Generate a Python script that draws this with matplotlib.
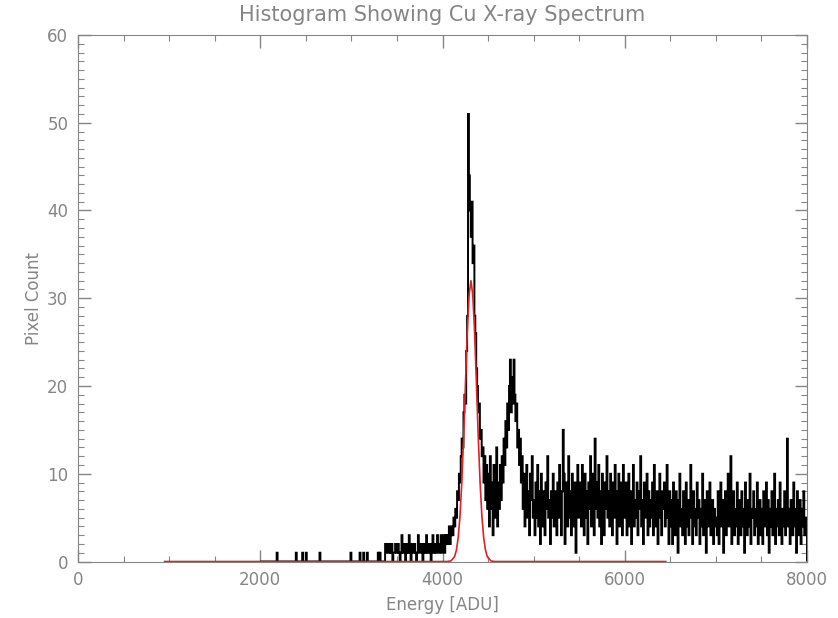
import numpy as np
import matplotlib
matplotlib.use("Agg")
import matplotlib.pyplot as plt
from matplotlib.ticker import MultipleLocator

# ancho de bin del histograma (ADU)
ancho_bin = 10
inicio = 2000
fin = 8000

# cuentas aisladas antes de la zona densa (1 cuenta cada una)
eventos_sueltos = [2180, 2390, 2460, 2500, 2650, 2990, 3090, 3130, 3170, 3290, 3310]

# cuentas por bin, zona densa desde 3350 ADU
cuentas_3350 = [0, 0, 2, 1, 2, 2, 1, 2, 1, 2, 0, 1, 1, 2, 1]
cuentas_3500 = [1, 2, 1, 0, 1, 3, 1, 1, 2, 0,
                1, 2, 1, 3, 1, 0, 2, 1, 1, 2,
                1, 0, 1, 3, 2, 1, 1, 2, 0, 1,
                2, 1, 3, 1, 1, 2, 1, 0, 2, 3,
                1, 2, 1, 1, 3, 2, 1, 2, 3, 1]
cuentas_4000 = [2, 3, 1, 3, 2, 3, 2, 4, 2, 3,
                4, 3, 5, 4, 6, 5, 8, 7, 10, 9,
                12, 14, 13, 17, 19, 18, 24, 28, 51, 44,
                40, 37, 41, 34, 36, 28, 26, 22, 20, 17,
                18, 14, 15, 12, 13, 9, 12, 7, 11, 6]
cuentas_4500 = [10, 4, 12, 6, 9, 3, 11, 5, 8, 13,
                4, 9, 6, 11, 7, 12, 9, 14, 11, 16,
                13, 18, 15, 20, 23, 17, 21, 18, 23, 19,
                16, 18, 13, 15, 11, 14, 9, 12, 6, 10,
                4, 9, 11, 5, 8, 3, 10, 7, 12, 5]
cuentas_5000 = [7, 3, 9, 5, 11, 4, 8, 2, 10, 6,
                4, 8, 3, 9, 6, 12, 5, 7, 2, 8,
                5, 10, 4, 8, 6, 3, 9, 5, 11, 7,
                3, 8, 15, 10, 2, 7, 9, 4, 12, 5,
                8, 3, 10, 6, 4, 9, 1, 7, 11, 5]
cuentas_5500 = [6, 9, 4, 11, 7, 3, 10, 5, 8, 2,
                9, 6, 12, 4, 7, 10, 3, 14, 6, 9,
                5, 11, 4, 8, 2, 10, 7, 3, 9, 6,
                12, 5, 8, 4, 10, 7, 3, 9, 5, 11,
                6, 2, 8, 10, 4, 7, 9, 3, 11, 6]
cuentas_6000 = [5, 9, 3, 7, 10, 4, 8, 2, 6, 11,
                4, 7, 5, 9, 3, 8, 6, 12, 4, 7,
                2, 9, 5, 6, 10, 3, 8, 4, 7, 5,
                9, 3, 11, 6, 4, 8, 2, 7, 10, 5,
                3, 8, 6, 9, 4, 7, 11, 5, 2, 8]
cuentas_6500 = [4, 7, 2, 9, 5, 3, 8, 6, 1, 7,
                10, 4, 6, 3, 8, 5, 2, 9, 4, 7,
                3, 6, 11, 5, 2, 8, 4, 6, 3, 9,
                5, 7, 2, 6, 4, 10, 3, 7, 5, 1,
                8, 4, 6, 9, 3, 5, 7, 2, 6, 4]
cuentas_7000 = [5, 3, 8, 2, 6, 9, 4, 7, 1, 5,
                8, 3, 6, 10, 4, 7, 12, 2, 5, 8,
                3, 6, 4, 9, 2, 7, 5, 3, 8, 4,
                6, 1, 9, 5, 3, 7, 4, 10, 2, 6,
                5, 8, 3, 6, 4, 9, 2, 5, 7, 3]
cuentas_7500 = [6, 2, 8, 4, 5, 9, 3, 7, 1, 6,
                4, 8, 3, 5, 10, 2, 6, 4, 7, 3,
                9, 5, 2, 6, 4, 8, 3, 5, 14, 4,
                6, 2, 7, 5, 3, 9, 4, 6, 1, 8,
                3, 5, 7, 2, 6, 4, 8, 3, 5, 4]

# ajuste gaussiano (curva roja)
ajuste_x = [950, 4052, 4092, 4132, 4152, 4172, 4192, 4212, 4232, 4252, 4272,
            4292, 4312, 4332, 4352, 4372, 4392, 4412, 4432, 4452, 4472,
            4492, 4532, 4572, 6450]
ajuste_y = [0, 0, 0.07, 0.54, 1.27, 2.71, 5.2, 9.1, 14.3, 20.3, 26.2,
            30.4, 32.0, 30.4, 26.2, 20.3, 14.3, 9.1, 5.2, 2.71, 1.27,
            0.54, 0.07, 0, 0]

gris = "#858585"


def armar_histograma():
    bordes = np.arange(inicio, fin + ancho_bin, ancho_bin)
    cuentas = np.zeros(len(bordes) - 1)
    for e in eventos_sueltos:
        cuentas[(e - inicio) // ancho_bin] = 1
    densa = (cuentas_3350 + cuentas_3500 + cuentas_4000 + cuentas_4500 +
             cuentas_5000 + cuentas_5500 + cuentas_6000 + cuentas_6500 +
             cuentas_7000 + cuentas_7500)
    i0 = (3350 - inicio) // ancho_bin
    cuentas[i0:i0 + len(densa)] = densa
    return bordes, cuentas


def graficar():
    plt.rcParams['font.family'] = ['DejaVu Sans']
    fig = plt.figure(figsize=(8.38, 6.18), dpi=100)
    ax = fig.add_axes([0.0931, 0.0914, 0.8699, 0.852])

    bordes, cuentas = armar_histograma()
    ax.stairs(cuentas, bordes, color='black', lw=1.4, zorder=2)
    ax.plot(ajuste_x, ajuste_y, color='#dd2228', lw=1.2, zorder=3)

    ax.set_xlim(0, 8000)
    ax.set_ylim(0, 60)
    ax.xaxis.set_major_locator(MultipleLocator(2000))
    ax.xaxis.set_minor_locator(MultipleLocator(500))
    ax.yaxis.set_major_locator(MultipleLocator(10))
    ax.yaxis.set_minor_locator(MultipleLocator(1))
    ax.tick_params(which='both', direction='in', top=True, right=True,
                   color=gris, labelcolor=gris, labelsize=12, pad=7)
    ax.tick_params(which='major', length=9, width=1)
    ax.tick_params(which='minor', length=4.5, width=0.8)
    for s in ax.spines.values():
        s.set_color(gris)

    ax.set_title('Histogram Showing Cu X-ray Spectrum', color=gris,
                 fontsize=15, pad=10)
    ax.set_xlabel('Energy [ADU]', color=gris, fontsize=12, labelpad=5)
    ax.set_ylabel('Pixel Count', color=gris, fontsize=12, labelpad=3)

    fig.savefig('out.png', dpi=100)


if __name__ == "__main__":
    graficar()
